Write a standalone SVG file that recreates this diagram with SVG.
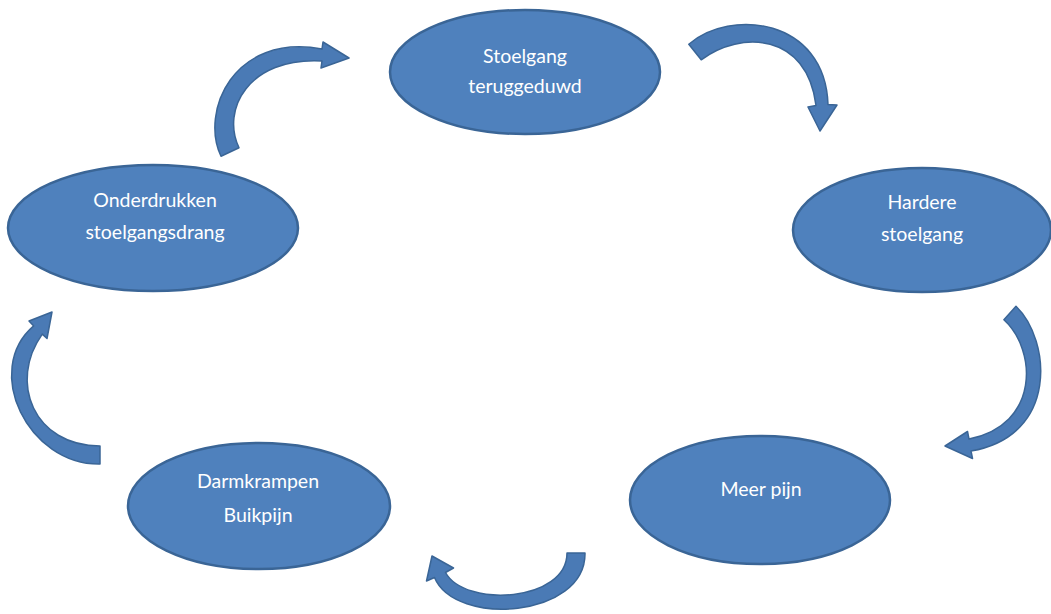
<svg xmlns="http://www.w3.org/2000/svg" width="1051" height="614" viewBox="0 0 1051 614">
<style>
.node ellipse{fill:#4F81BD;stroke:#3A6596;stroke-width:2.5}
.node text{fill:#FFFFFF;font-family:Lato,"Liberation Sans",sans-serif;font-size:19.5px;text-anchor:middle}
.arrow{fill:#4A7AB5;stroke:#3A6596;stroke-width:1.5;stroke-linejoin:round}
</style>
<rect width="1051" height="614" fill="#FFFFFF"/>
<g id="connectors">
<path class="arrow" d="M221,156.3 C200,112 233,33 322,49 L323,42 L349,58 L321,68 L322,61 C248,57 221,110 239,147.7 Z"/>
<path class="arrow" d="M688.8,44.2 C730,8 825,18 828,104.5 L837,105 L820,131 L808,107 L816,105.5 C807,33 741,30 701.2,59.8 Z"/>
<path class="arrow" d="M1016,306.3 C1051,340 1059,436 971,451 L972.5,458.5 L945,446 L967.5,431.5 L969,439 C1040,425 1037,350 1003.9,319.7 Z"/>
<path class="arrow" d="M100,464 C28,465 -18,370 33.7,325.9 L29,321 L52,312 L47,338.5 L42.3,334.1 C8,382 34,446 100,446 Z"/>
<path class="arrow" d="M585,553 C586,618 455,627 434.5,577.5 L426.5,581 L432,556 L453.5,568 L445.5,572.5 C465,608 567,602 567,553 Z"/>
</g>
<g id="node-stoelgang-teruggeduwd" class="node">
<ellipse cx="525" cy="72" rx="135" ry="62"/>
<text x="525" y="63">Stoelgang</text>
<text x="525" y="93">teruggeduwd</text>
</g>
<g id="node-hardere-stoelgang" class="node">
<ellipse cx="922" cy="230" rx="129" ry="62"/>
<text x="922" y="209">Hardere</text>
<text x="922" y="241">stoelgang</text>
</g>
<g id="node-meer-pijn" class="node">
<ellipse cx="760" cy="500" rx="130" ry="64"/>
<text x="761" y="496">Meer pijn</text>
</g>
<g id="node-darmkrampen" class="node">
<ellipse cx="259" cy="506" rx="131" ry="63"/>
<text x="258" y="488">Darmkrampen</text>
<text x="258" y="522">Buikpijn</text>
</g>
<g id="node-onderdrukken" class="node">
<ellipse cx="153" cy="228" rx="145" ry="63"/>
<text x="155" y="207">Onderdrukken</text>
<text x="155" y="239">stoelgangsdrang</text>
</g>
</svg>
